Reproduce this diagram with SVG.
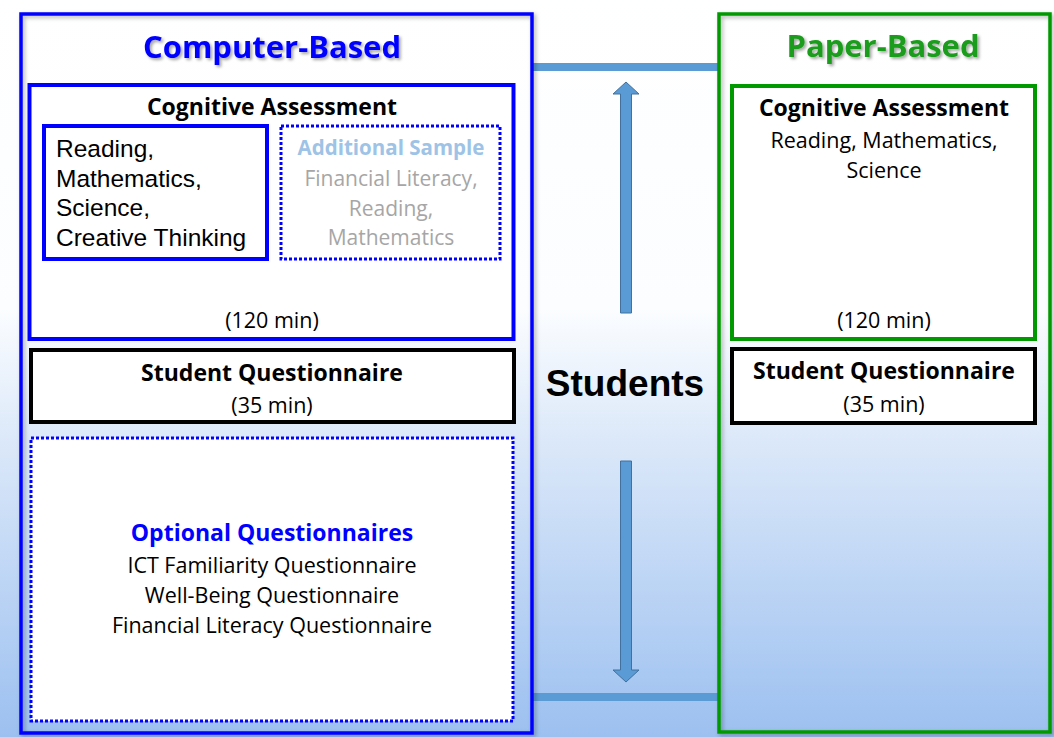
<svg xmlns="http://www.w3.org/2000/svg" width="1054" height="737" viewBox="0 0 1054 737">
<defs>
<linearGradient id="bg" x1="0" y1="0" x2="0" y2="1">
<stop offset="0" stop-color="#ffffff"/>
<stop offset="0.42" stop-color="#fbfdff"/>
<stop offset="0.6" stop-color="#dbe8f9"/>
<stop offset="1" stop-color="#9cc0f0"/>
</linearGradient>
<filter id="sh" x="-5%" y="-5%" width="110%" height="110%">
<feGaussianBlur in="SourceAlpha" stdDeviation="2"/>
<feOffset dx="2" dy="2" result="b"/>
<feFlood flood-color="#000" flood-opacity="0.3"/>
<feComposite in2="b" operator="in"/>
<feMerge><feMergeNode/><feMergeNode in="SourceGraphic"/></feMerge>
</filter>
<filter id="tsh" x="-10%" y="-20%" width="120%" height="150%">
<feGaussianBlur in="SourceAlpha" stdDeviation="1.5"/>
<feOffset dx="2" dy="2" result="b"/>
<feFlood flood-color="#000" flood-opacity="0.35"/>
<feComposite in2="b" operator="in"/>
<feMerge><feMergeNode/><feMergeNode in="SourceGraphic"/></feMerge>
</filter>
</defs>
<style>
text{font-family:"Open Sans",Lato,"Liberation Sans",sans-serif;fill:#000}
.c{text-anchor:middle}
.b{font-weight:bold}
.t{font-size:23px}
.s{font-size:21.5px}
.g{font-size:21px;fill:#a6a6a6}
.hd{font-size:31px;font-weight:bold}
.ar{font-family:"Liberation Sans",Arial,sans-serif;font-size:24.5px}
.wbox{fill:#fff;stroke-width:4}
.arrow{fill:#5b9bd5;stroke:#41719c;stroke-width:1}
</style>
<rect x="0" y="0" width="1054" height="737" fill="url(#bg)"/>

<g id="connectors">
<rect x="532" y="63" width="187" height="8" fill="#5b9bd5"/>
<rect x="532" y="693" width="187" height="8" fill="#5b9bd5"/>
<path class="arrow" d="M620.5,313 V94 H613 L626,82 L639,94 H631.5 V313 Z"/>
<path class="arrow" d="M620.5,461 V670 H613 L626,682 L639,670 H631.5 V461 Z"/>
</g>

<g id="students">
<text x="625" y="396" class="c" style="font-family:'Liberation Sans',Arial,sans-serif;font-weight:bold;font-size:37px">Students</text>
</g>

<g id="computer-based">
<rect x="21" y="14" width="511" height="719" fill="none" stroke="#0000ff" stroke-width="3.5" filter="url(#sh)"/>
<text x="272" y="58" class="c hd" style="fill:#0000ff" filter="url(#tsh)">Computer-Based</text>
</g>

<g id="cb-cognitive">
<rect x="29.5" y="85" width="484" height="254" class="wbox" stroke="#0000ff"/>
<text x="272" y="115" class="c b t">Cognitive Assessment</text>
<text x="272" y="328" class="c s">(120 min)</text>
</g>

<g id="cb-core-domains">
<rect x="44" y="126" width="223" height="133" class="wbox" stroke="#0000ff"/>
<text x="56" y="157" class="ar">Reading,</text>
<text x="56" y="187" class="ar">Mathematics,</text>
<text x="56" y="216" class="ar">Science,</text>
<text x="56" y="246" class="ar">Creative Thinking</text>
</g>

<g id="cb-additional-sample">
<rect x="281" y="126" width="219" height="133" fill="#fff" stroke="#0000ff" stroke-width="3" stroke-dasharray="3 2"/>
<text x="391" y="155" class="c b" style="fill:#9dc3e6;font-size:20.5px">Additional Sample</text>
<text x="391" y="186" class="c g">Financial Literacy,</text>
<text x="391" y="216" class="c g">Reading,</text>
<text x="391" y="245" class="c g">Mathematics</text>
</g>

<g id="cb-student-questionnaire">
<rect x="31" y="350" width="483" height="72" class="wbox" stroke="#000"/>
<text x="272" y="381" class="c b t">Student Questionnaire</text>
<text x="272" y="413" class="c s">(35 min)</text>
</g>

<g id="cb-optional-questionnaires">
<rect x="31" y="438" width="482" height="283" fill="#fff" stroke="#0000ff" stroke-width="3" stroke-dasharray="3 2"/>
<text x="272" y="541" class="c b t" style="fill:#0000ff">Optional Questionnaires</text>
<text x="272" y="573" class="c s">ICT Familiarity Questionnaire</text>
<text x="272" y="603" class="c s">Well-Being Questionnaire</text>
<text x="272" y="633" class="c s">Financial Literacy Questionnaire</text>
</g>

<g id="paper-based">
<rect x="719" y="14" width="331" height="718" fill="none" stroke="#009900" stroke-width="3.5" filter="url(#sh)"/>
<text x="883" y="57" class="c hd" style="fill:#1a9c1a" filter="url(#tsh)">Paper-Based</text>
</g>

<g id="pb-cognitive">
<rect x="732" y="86" width="303" height="253" class="wbox" stroke="#009900"/>
<text x="884" y="116" class="c b t">Cognitive Assessment</text>
<text x="884" y="148" class="c s">Reading, Mathematics,</text>
<text x="884" y="178" class="c s">Science</text>
<text x="884" y="328" class="c s">(120 min)</text>
</g>

<g id="pb-student-questionnaire">
<rect x="732" y="349" width="303" height="74" class="wbox" stroke="#000"/>
<text x="884" y="379" class="c b t">Student Questionnaire</text>
<text x="884" y="412" class="c s">(35 min)</text>
</g>
</svg>
